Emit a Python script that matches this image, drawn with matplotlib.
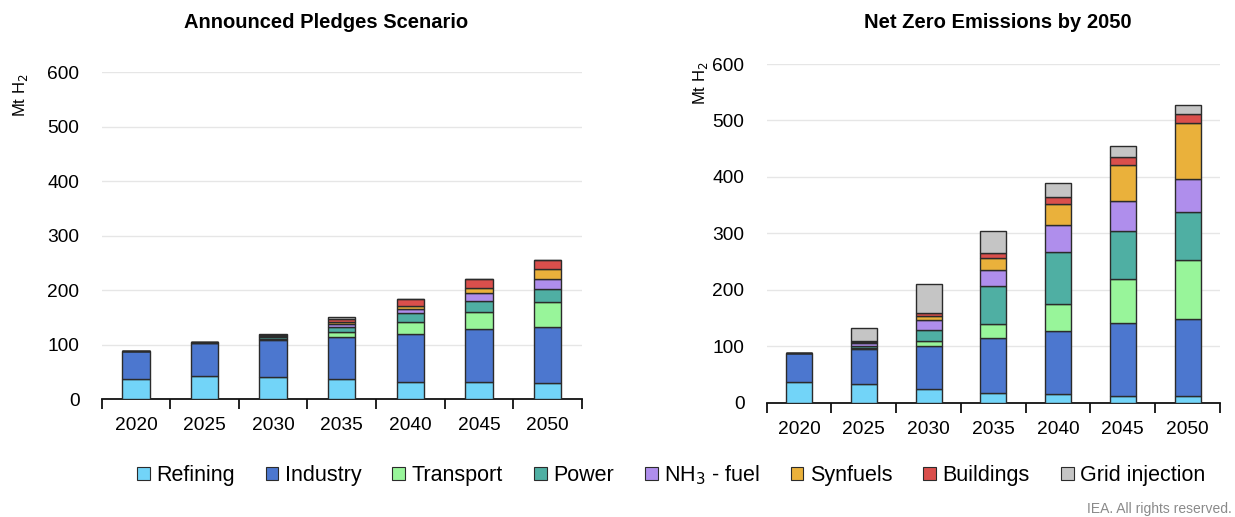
import matplotlib
matplotlib.use("Agg")
import matplotlib.pyplot as plt
import numpy as np
from matplotlib.patches import Patch

plt.rcParams['font.family'] = ['Liberation Sans', 'DejaVu Sans']

years = ["2020", "2025", "2030", "2035", "2040", "2045", "2050"]
categories = ["Refining", "Industry", "Transport", "Power", "NH$_3$ - fuel",
              "Synfuels", "Buildings", "Grid injection"]
colors = ["#72D4F8", "#4C77CF", "#98F59A", "#4FAFA3", "#AF8EEC",
          "#EAB13B", "#DA4F4C", "#C5C5C5"]

# Announced Pledges Scenario (Mt H2)
aps_refining  = [36, 42, 41, 36, 32, 31, 29]
aps_industry  = [52, 61, 67, 78, 88, 97, 103]
aps_transport = [0, 0.7, 2, 9, 21, 32, 46]
aps_power     = [0, 0.7, 3, 10, 16, 20, 24]
aps_nh3       = [0, 0, 2, 5, 9, 14, 19]
aps_synfuels  = [0, 0, 1, 3, 5, 10, 17]
aps_buildings = [0, 0, 1, 6, 13, 16, 17]
aps_grid      = [0, 0, 2, 3, 0, 0, 0]

# Net Zero Emissions by 2050 (Mt H2)
nze_refining  = [36, 33, 25, 18, 15, 12, 11]
nze_industry  = [52, 62, 75, 96, 112, 129, 138]
nze_transport = [0, 2, 9, 26, 48, 78, 103]
nze_power     = [0, 3, 19, 67, 92, 86, 86]
nze_nh3       = [0, 5, 18, 28, 47, 53, 59]
nze_synfuels  = [0, 2, 8, 22, 38, 63, 98]
nze_buildings = [0, 3, 5, 8, 12, 15, 17]
nze_grid      = [0, 23, 51, 39, 25, 19, 16]

aps = [aps_refining, aps_industry, aps_transport, aps_power, aps_nh3,
       aps_synfuels, aps_buildings, aps_grid]
nze = [nze_refining, nze_industry, nze_transport, nze_power, nze_nh3,
       nze_synfuels, nze_buildings, nze_grid]

fig = plt.figure(figsize=(12.35, 5.17), dpi=100)
ax1 = fig.add_axes([0.0823, 0.2282, 0.3887, 0.6325])
ax2 = fig.add_axes([0.6208, 0.2211, 0.3670, 0.6551])


def draw(ax, data):
    x = np.arange(len(years))
    bottom = np.zeros(len(years))
    for vals, c in zip(data, colors):
        v = np.array(vals, dtype=float)
        ax.bar(x, v, bottom=bottom, width=0.4, color=c,
               edgecolor="#2b2b2b", linewidth=1.0, zorder=3)
        bottom += v
    ax.set_xlim(-0.5, len(years) - 0.5)
    ax.set_ylim(0, 600)
    ax.set_yticks([0, 100, 200, 300, 400, 500, 600])
    ax.yaxis.grid(True, color="#E6E6E6", linewidth=1.0, zorder=0)
    ax.set_axisbelow(True)
    for s in ["top", "right", "left"]:
        ax.spines[s].set_visible(False)
    ax.spines["bottom"].set_linewidth(1.3)
    ax.spines["bottom"].set_color("#111111")
    ax.set_xticks(x)
    ax.set_xticklabels(years)
    ax.set_xticks(np.arange(-0.5, len(years)), minor=True)
    ax.tick_params(axis="x", which="major", length=0, pad=13, labelsize=13.8)
    ax.tick_params(axis="x", which="minor", length=7, width=1.3, direction="out",
                   color="#111111")
    ax.tick_params(axis="y", length=0, pad=16, labelsize=13.8)


draw(ax1, aps)
draw(ax2, nze)

fig.text(326 / 1235, 1 - 22 / 517, "Announced Pledges Scenario", ha="center",
         va="center", fontsize=14.5, fontweight="bold")
fig.text(998 / 1235, 1 - 22 / 517, "Net Zero Emissions by 2050", ha="center",
         va="center", fontsize=14.5, fontweight="bold")

fig.text(20 / 1235, 1 - 95 / 517, "Mt H$_2$", rotation=90, ha="center",
         va="center", fontsize=12)
fig.text(700 / 1235, 1 - 83 / 517, "Mt H$_2$", rotation=90, ha="center",
         va="center", fontsize=12)

handles = [Patch(facecolor=c, edgecolor="#2b2b2b", linewidth=0.8) for c in colors]
fig.legend(handles, categories, loc="center", ncol=8,
           bbox_to_anchor=(671 / 1235, 1 - 475 / 517), frameon=False,
           fontsize=15.5, handlelength=0.6, handleheight=0.6, handletextpad=0.3,
           columnspacing=1.43)

fig.text(1232 / 1235, 1 - 509 / 517, "IEA. All rights reserved.", ha="right",
         va="center", fontsize=10, color="#8a8a8a")

fig.savefig("out.png", dpi=100)
